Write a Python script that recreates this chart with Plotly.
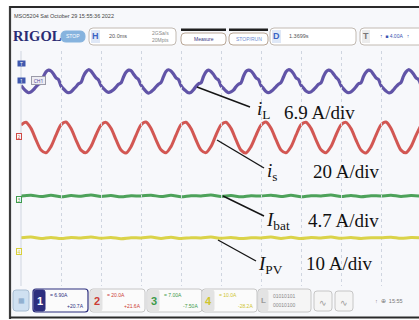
import numpy as np
import plotly.graph_objects as go

W, H = 419, 320

# ---- acquisition: sample clocks in ms (20 ms/div, 10 divisions) ----
t_il = np.arange(161) * 1.25
t_is = np.arange(81) * 2.5
t_dc = np.arange(41) * 5.0

# CH1 inductor current i_L (A)
i_L = [
    -1.2, -1.9, -2.5, -2.9, -2.7, -2.2, -1.5, -0.9, -0.6, 0.9, 2.0, 2.4, 2.2, 1.5, 0.6, 0.2,
    -1.3, -2.0, -2.6, -2.9, -2.7, -2.1, -1.5, -0.8, -0.5, 1.0, 2.0, 2.5, 2.2, 1.4, 0.6, 0.1,
    -1.2, -1.9, -2.5, -2.8, -2.6, -2.2, -1.6, -0.9, -0.6, 0.8, 1.9, 2.4, 2.3, 1.5, 0.7, 0.2,
    -1.1, -1.9, -2.6, -3.0, -2.7, -2.2, -1.5, -0.9, -0.5, 0.9, 2.1, 2.5, 2.2, 1.5, 0.6, 0.2,
    -1.2, -2.0, -2.5, -2.9, -2.8, -2.2, -1.4, -0.8, -0.6, 0.9, 2.0, 2.4, 2.1, 1.4, 0.5, 0.1,
    -1.3, -1.9, -2.5, -2.9, -2.7, -2.3, -1.5, -0.9, -0.6, 1.0, 2.1, 2.4, 2.2, 1.5, 0.6, 0.2,
    -1.2, -1.9, -2.6, -2.9, -2.6, -2.1, -1.5, -0.9, -0.5, 0.8, 2.0, 2.5, 2.3, 1.6, 0.6, 0.2,
    -1.1, -1.8, -2.5, -2.8, -2.7, -2.2, -1.6, -0.9, -0.6, 0.9, 2.0, 2.4, 2.2, 1.5, 0.7, 0.1,
    -1.2, -2.0, -2.6, -2.9, -2.7, -2.2, -1.5, -0.8, -0.6, 0.9, 1.9, 2.4, 2.2, 1.4, 0.6, 0.2,
    -1.2, -1.9, -2.5, -2.9, -2.8, -2.2, -1.5, -0.9, -0.5, 1.0, 2.0, 2.5, 2.2, 1.5, 0.6, 0.2,
    -1.2,
]

# CH2 grid current i_s (A)
i_s = [
    8.0, 9.9, 5.7, -2.1, -9.0, -10.9, -6.7, 1.1,
    8.1, 10.0, 5.6, -2.2, -9.1, -10.8, -6.6, 1.2,
    7.9, 9.8, 5.8, -2.0, -9.0, -11.0, -6.8, 1.0,
    8.0, 10.0, 5.7, -2.1, -8.9, -10.9, -6.7, 1.1,
    8.2, 9.9, 5.6, -2.2, -9.0, -10.8, -6.6, 1.2,
    8.0, 9.9, 5.7, -2.1, -9.1, -11.0, -6.7, 1.0,
    7.9, 10.0, 5.8, -2.0, -9.0, -10.9, -6.8, 1.1,
    8.1, 9.9, 5.7, -2.1, -8.9, -10.9, -6.6, 1.2,
    8.0, 9.8, 5.6, -2.2, -9.0, -11.0, -6.7, 1.1,
    8.0, 10.0, 5.7, -2.1, -9.1, -10.9, -6.7, 1.0,
    8.0,
]

# CH3 battery current I_bat (A)
I_bat = [
    0.95, 1.15, 0.80, 1.10, 0.75, 1.05, 0.90, 1.20, 0.85, 1.05,
    0.75, 1.00, 0.95, 1.15, 0.80, 1.10, 0.78, 1.02, 0.97, 1.18,
    0.84, 1.06, 0.76, 1.00, 0.94, 1.14, 0.82, 1.10, 0.77, 1.03,
    0.96, 1.16, 0.83, 1.08, 0.78, 1.01, 0.95, 1.12, 0.84, 1.05,
    0.93,
]

# CH4 PV current I_PV (A)
I_pv = [
    4.60, 4.85, 4.40, 4.75, 4.35, 4.70, 4.55, 4.90, 4.45, 4.72,
    4.30, 4.62, 4.55, 4.85, 4.40, 4.78, 4.35, 4.66, 4.58, 4.88,
    4.42, 4.74, 4.33, 4.62, 4.57, 4.84, 4.41, 4.76, 4.36, 4.68,
    4.56, 4.86, 4.43, 4.73, 4.37, 4.64, 4.59, 4.82, 4.44, 4.70,
    4.58,
]

# ---- channel settings (A/div and offset in A) ----
ch_ids = ["1", "2", "3", "4"]
ch_scale = [6.90, 20.0, 7.00, 10.0]
ch_offset = [20.7, 21.6, -7.50, -28.2]
ch_colors = ["#5547a0", "#cf4a45", "#3f9b4d", "#d8d03a"]
ch_text_colors = ["#2d2f7e", "#cc3b33", "#3c9a4a", "#cfc52e"]
trig_level = 4.00

labels_sym = ["<i>i</i><sub>L</sub>", "<i>i</i><sub>s</sub>",
              "<i>I</i><sub>bat</sub>", "<i>I</i><sub>PV</sub>"]
labels_div = ["6.9 A/div", "20 A/div", "4.7 A/div", "10 A/div"]

header = "MSO5204 Sat October 29 15:55:36 2022"
timebase = "20.0ms"
delay = "1.3699s"


def X(p):
    return p / W


def Y(p):
    return 1 - p / H


def rrect(x0, y0, x1, y1, r=3, fill="white", line="#c2bab2", lw=1):
    path = (f"M{X(x0 + r)},{Y(y0)} L{X(x1 - r)},{Y(y0)} Q{X(x1)},{Y(y0)} {X(x1)},{Y(y0 + r)} "
            f"L{X(x1)},{Y(y1 - r)} Q{X(x1)},{Y(y1)} {X(x1 - r)},{Y(y1)} "
            f"L{X(x0 + r)},{Y(y1)} Q{X(x0)},{Y(y1)} {X(x0)},{Y(y1 - r)} "
            f"L{X(x0)},{Y(y0 + r)} Q{X(x0)},{Y(y0)} {X(x0 + r)},{Y(y0)} Z")
    return dict(type="path", path=path, xref="paper", yref="paper",
                fillcolor=fill, line=dict(color=line, width=lw), layer="below")


def rect(x0, y0, x1, y1, fill, line=None, lw=0):
    return dict(type="rect", xref="paper", yref="paper",
                x0=X(x0), x1=X(x1), y0=Y(y1), y1=Y(y0), fillcolor=fill,
                line=dict(color=line or fill, width=lw), layer="below")


def seg(x0, y0, x1, y1, color="#151515", w=1.4):
    return dict(type="line", xref="paper", yref="paper",
                x0=X(x0), y0=Y(y0), x1=X(x1), y1=Y(y1),
                line=dict(color=color, width=w))


def txt(x, y, s, size, color, anchor="left", family="Liberation Sans", **kw):
    return dict(x=X(x), y=Y(y), xref="paper", yref="paper", text=s,
                showarrow=False, xanchor=anchor, yanchor="middle",
                font=dict(size=size, color=color, family=family), **kw)


fig = go.Figure()

series = [(t_il, i_L), (t_is, i_s), (t_dc, I_bat), (t_dc, I_pv)]
widths = [3.2, 3, 3, 3]
for k, (tt, vv) in enumerate(series):
    fig.add_trace(go.Scatter(
        x=tt, y=vv, mode="lines", xaxis="x", yaxis=f"y{k + 2}",
        line=dict(color=ch_colors[k], width=widths[k], shape="spline", smoothing=0.8),
        opacity=0.92, showlegend=False, hoverinfo="skip"))

# plotting grid: 10 x 8 divisions
grid_top, grid_bot, grid_left = 51, 286, 21
ydom = [Y(grid_bot), Y(grid_top)]
layout_axes = dict(
    xaxis=dict(domain=[X(grid_left), 1], range=[0, (W - grid_left) / 40 * 20],
               dtick=20, tick0=0, showgrid=True, gridcolor="#cfd5e0", griddash="dot",
               gridwidth=1, zeroline=False, showticklabels=False, ticks="", fixedrange=True),
    yaxis=dict(domain=ydom, range=[-4, 4], dtick=1, showgrid=True, gridcolor="#cfd5e0",
               griddash="dot", zeroline=False, showticklabels=False, ticks="", fixedrange=True),
)
for k in range(4):
    s, o = ch_scale[k], ch_offset[k]
    layout_axes[f"yaxis{k + 2}"] = dict(
        overlaying="y", domain=ydom, range=[-4 * s - o, 4 * s - o],
        showgrid=False, zeroline=False, showticklabels=False, ticks="",
        showline=False, fixedrange=True)

shapes = []
annotations = []

# screen frame
shapes.append(rect(10, 7, 419, 317, "#f7f8fb"))
shapes.append(seg(10, 6, 10, 319, "#3b3b3b", 2.2))
shapes.append(seg(10, 7, 419, 7, "#2a2a2a", 2))
shapes.append(seg(10, 317.5, 419, 317.5, "#2a2a2a", 2))
shapes.append(seg(grid_left, grid_top, grid_left, grid_bot, "#cfd5e0", 1))

# header line and toolbar
annotations.append(txt(12, 16, header, 5.5, "#444"))
annotations.append(txt(11, 36.5, "<b>RIGOL</b>", 14.5, "#2a2c74", family="Liberation Serif"))
shapes.append(rrect(61, 31, 85, 42, r=5, fill="#86b3de", line="#86b3de"))
annotations.append(txt(73, 36.5, "STOP", 5, "white", anchor="center"))

shapes.append(rrect(89, 28, 176, 45, r=4))
shapes.append(rect(91, 30, 100, 43, "#dfe8f7"))
annotations.append(txt(95.5, 36.5, "<b>H</b>", 9, "#3a63c4", anchor="center"))
annotations.append(txt(107, 36.5, timebase, 5.5, "#555"))
annotations.append(txt(160, 33, "2GSa/s", 5, "#888", anchor="center"))
annotations.append(txt(160, 40, "20Mpts", 5, "#888", anchor="center"))

shapes.append(rect(181, 28.5, 226, 31, "#1f1f1f"))
shapes.append(rect(229, 28.5, 268, 31, "#1f1f1f"))
shapes.append(rrect(181, 33, 226, 45, r=4, line="#b9a797"))
annotations.append(txt(203.5, 39, "Measure", 5, "#34357e", anchor="center"))
shapes.append(rrect(229, 33, 268, 45, r=4, line="#b9a797"))
annotations.append(txt(248.5, 39, "STOP/RUN", 5, "#6c8bd2", anchor="center"))

shapes.append(rrect(270, 28, 356, 45, r=4))
shapes.append(rect(272, 30, 281, 43, "#dfe8f7"))
annotations.append(txt(276.5, 36.5, "<b>D</b>", 9, "#3a63c4", anchor="center"))
annotations.append(txt(287, 36.5, delay, 5.5, "#555"))

shapes.append(rrect(360, 28, 430, 45, r=4))
shapes.append(rect(362, 30, 370, 43, "#ececec"))
annotations.append(txt(366, 36.5, "<b>T</b>", 9, "#777", anchor="center"))
annotations.append(txt(378, 36.5, f"↑  ■ {trig_level:.2f}A   ↑", 5, "#3a4fb0"))

# channel ground markers and trigger level on the left edge
for k in range(4):
    yk = f"y{k + 2}"
    if k == 0:
        annotations.append(dict(x=X(16.5), y=0, xref="paper", yref=yk, text=ch_ids[k],
                                showarrow=False, font=dict(size=5, color="white"),
                                bgcolor="#3e57ae", width=7, height=5, borderpad=0))
    else:
        annotations.append(dict(x=X(15.5), y=0, xref="paper", yref=yk, text=ch_ids[k],
                                showarrow=False, font=dict(size=5, color=ch_colors[k]),
                                bordercolor=ch_colors[k], borderwidth=1, bgcolor="#f7f8fb",
                                width=4, height=5, borderpad=0))
annotations.append(dict(x=X(16.5), y=trig_level, xref="paper", yref="y2", text="T",
                        showarrow=False, font=dict(size=5, color="white"),
                        bgcolor="#3e57ae", width=7, height=5, borderpad=0))
annotations.append(dict(x=X(30.5), y=0, xref="paper", yref="y2", text="CH1",
                        showarrow=False, font=dict(size=5, color="#4a3f95"),
                        bgcolor="#ededf3", bordercolor="#9a9aa8", borderwidth=1,
                        width=13, height=7, borderpad=0))

# leader lines and signal labels
leaders = [(197, 87, 250, 107), (217, 140, 264, 168), (223, 196, 264, 216), (218, 240, 256, 261)]
sym_pos = [(255, 110), (265, 172), (264, 221), (256, 265)]
div_pos = [(282, 112), (311, 171), (306, 220), (304, 263)]
for k in range(4):
    shapes.append(seg(*leaders[k]))
    annotations.append(txt(*sym_pos[k], labels_sym[k], 19, "#111", family="Liberation Serif"))
    annotations.append(txt(*div_pos[k], labels_div[k], 19, "#111", family="Liberation Serif"))

# bottom status bar
shapes.append(rrect(13, 290, 29, 311, r=3, fill="#cfe0f1", line="#a8bdd2"))
annotations.append(txt(21, 300.5, "▦", 7, "#7fa3c8", anchor="center"))
box_x = [33, 90, 147, 202]
for k in range(4):
    x0 = box_x[k]
    active = k == 0
    shapes.append(rrect(x0, 289, x0 + 55, 312, r=3, fill="#fbfbfb",
                        line="#2d2f7e" if active else "#c6c6c6", lw=1.2 if active else 1))
    shapes.append(rrect(x0 + 1, 290, x0 + 12, 311, r=2,
                        fill="#2d2f7e" if active else "#e3e3e3",
                        line="#2d2f7e" if active else "#e3e3e3"))
    annotations.append(txt(x0 + 6.5, 300.5, f"<b>{ch_ids[k]}</b>", 11,
                           "white" if active else ch_text_colors[k], anchor="center"))
    annotations.append(txt(x0 + 15, 295, f"= {ch_scale[k]:.2f}A" if ch_scale[k] < 10
                           else f"= {ch_scale[k]:.1f}A", 5, ch_text_colors[k]))
    annotations.append(txt(x0 + 53, 306, f"{ch_offset[k]:+.1f}A" if abs(ch_offset[k]) >= 10
                           else f"{ch_offset[k]:+.2f}A", 5, ch_text_colors[k], anchor="right"))
shapes.append(rrect(258, 289, 311, 312, r=3, fill="#f5f5f5", line="#c6c6c6"))
shapes.append(rrect(259, 290, 268, 311, r=2, fill="#e3e3e3", line="#e3e3e3"))
annotations.append(txt(263.5, 300.5, "<b>L</b>", 8, "#9a9a9a", anchor="center"))
annotations.append(txt(271, 296, "01010101", 5, "#8a8a8a"))
annotations.append(txt(271, 305, "00010100", 5, "#8a8a8a"))
for x0 in (314, 335):
    shapes.append(rrect(x0, 291, x0 + 18, 311, r=3, fill="#f5f5f5", line="#c6c6c6"))
    annotations.append(txt(x0 + 9, 303, "∿", 9, "#9a9a9a", anchor="center"))
annotations.append(txt(373, 300.5, "↑  ⊕  15:55", 5.5, "#777"))

fig.update_layout(
    width=W, height=H, margin=dict(l=0, r=0, t=0, b=0),
    paper_bgcolor="white", plot_bgcolor="rgba(0,0,0,0)",
    shapes=shapes, annotations=annotations, showlegend=False,
    **layout_axes,
)

fig.write_html("out.html")
